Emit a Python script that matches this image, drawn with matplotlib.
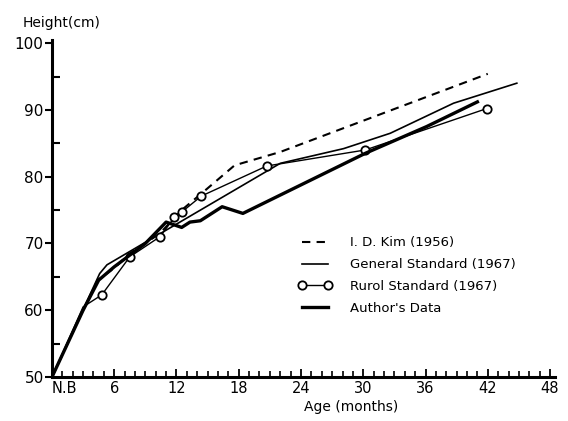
import matplotlib
matplotlib.use("Agg")
import matplotlib.pyplot as plt
from matplotlib.ticker import MultipleLocator

# I. D. Kim (1956)
kim_age = [0, 3, 4.4, 6, 7.5, 10.4, 12.5, 14.5, 17.6, 22, 42]
kim_h = [50, 60, 64.5, 66.3, 68.5, 71.5, 75.0, 77.6, 81.7, 83.7, 95.4]

# General Standard (1967)
gen_age = [0, 4.6, 5.3, 22, 28.1, 32.6, 38.7, 44.8]
gen_h = [50, 65.5, 66.8, 82.0, 84.2, 86.5, 91.0, 94.0]

# Rurol Standard (1967)
rur_age = [0, 3, 4.8, 7.5, 10.4, 11.8, 12.5, 14.4, 20.7, 30.2, 41.9]
rur_h = [50, 60.5, 62.3, 68.0, 71.0, 73.9, 74.7, 77.1, 81.6, 84.0, 90.2]

# Author's Data
aut_age = [0, 3, 4.5, 6, 9, 11, 12.5, 13.3, 14.3, 16.4, 18.4, 30.2, 36.1, 41]
aut_h = [50, 60, 64.5, 66.5, 70, 73.2, 72.4, 73.2, 73.4, 75.5, 74.5, 83.5, 87.5, 91.2]

xticks = [0, 6, 12, 18, 24, 30, 36, 42, 48]
xlabels = ["N.B", "6", "12", "18", "24", "30", "36", "42", "48"]
yticks = [50, 60, 70, 80, 90, 100]

fig = plt.figure(figsize=(5.68, 4.21), dpi=100)
ax = fig.add_axes([0.0915, 0.1045, 0.886, 0.801])

ax.plot(kim_age, kim_h, color="black", lw=1.5, ls=(0, (4, 3)), label="I. D. Kim (1956)")
ax.plot(gen_age, gen_h, color="black", lw=1.2, label="General Standard (1967)")
ax.plot(rur_age, rur_h, color="black", lw=1.0, marker="o", markersize=6,
        markerfacecolor="white", markeredgewidth=1.3, markevery=list(range(2, len(rur_age))),
        label="Rurol Standard (1967)")
ax.plot(aut_age, aut_h, color="black", lw=2.4, label="Author's Data")

ax.set_xlim(0, 48.5)
ax.set_ylim(50, 100.5)

for s in ["top", "right"]:
    ax.spines[s].set_visible(False)
for s in ["left", "bottom"]:
    ax.spines[s].set_linewidth(2.2)

ax.set_xticks(xticks)
ax.set_xticklabels(xlabels, fontsize=10.5)
ax.get_xticklabels()[0].set_horizontalalignment("left")
ax.xaxis.set_minor_locator(MultipleLocator(1))
ax.tick_params(axis="x", which="major", direction="in", length=6, width=1.3, pad=3)
ax.tick_params(axis="x", which="minor", direction="in", length=4, width=1.2)

ax.set_yticks(yticks)
ax.set_yticklabels([str(v) for v in yticks], fontsize=11)
ax.yaxis.set_minor_locator(MultipleLocator(5))
ax.tick_params(axis="y", which="major", direction="out", length=5, width=1.5, pad=1)
ax.tick_params(axis="y", which="minor", direction="in", length=6, width=1.5)

ax.set_xlabel("Age (months)", fontsize=10)
ax.xaxis.set_label_coords(0.594, -0.068)
fig.text(0.04, 0.945, "Height(cm)", fontsize=10, ha="left", va="center")

ax.legend(loc="upper left", bbox_to_anchor=(0.489, 0.417), frameon=False, fontsize=9.5,
          handlelength=2.6, handletextpad=1.3, labelspacing=0.67, numpoints=2,
          borderpad=0, borderaxespad=0)

fig.savefig("out.png", dpi=100)
